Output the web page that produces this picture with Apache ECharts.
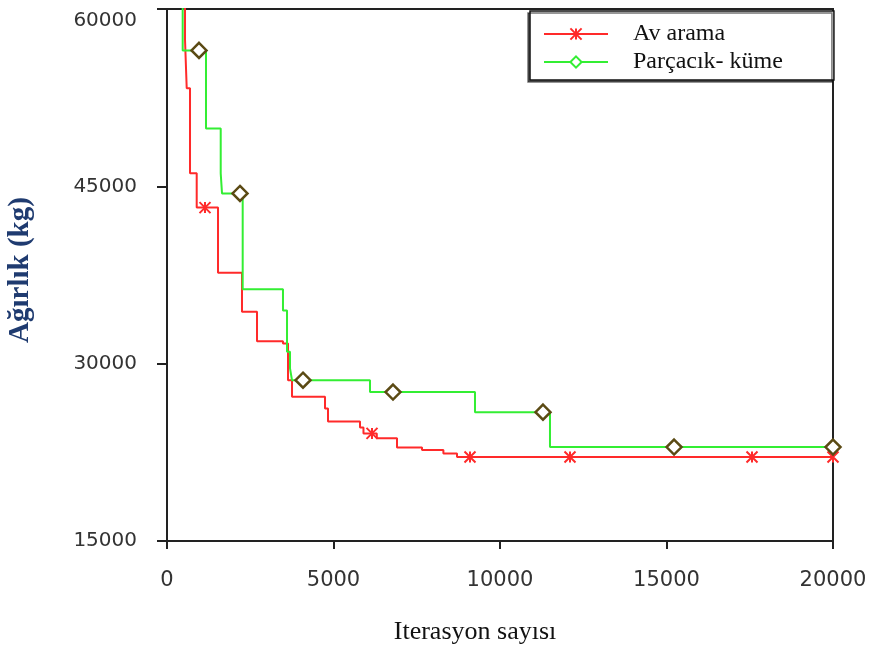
<!DOCTYPE html>
<html>
<head>
<meta charset="utf-8">
<script src="https://cdn.jsdelivr.net/npm/echarts@6/dist/echarts.min.js"></script>
<style>
  html, body { margin: 0; padding: 0; background: #fff; }
  #chart { width: 869px; height: 651px; }
</style>
</head>
<body>
<div id="chart"></div>
<script>
// Av arama (hunting search) - step points where the best value changes
const avX = [0, 541, 592, 691, 892, 1532, 2252, 2703, 3483, 3634, 3754, 4745, 4835, 5796, 5900, 6300, 6907, 7658, 8300, 8709, 20000];
const avY = [70000, 57400, 53300, 46100, 43200, 37700, 34400, 31900, 31700, 28600, 27200, 26200, 25100, 24600, 24100, 23700, 22900, 22700, 22400, 22100, 22100];
const avMarkX = [1141, 6156, 9099, 12102, 17568, 20000];
const avMarkY = [43200, 24100, 22100, 22100, 22100, 22100];

// Parçacık- küme (particle swarm)
const psoX = [0, 471, 1171, 1613, 1652, 2273, 3483, 3604, 3694, 3754, 6096, 9249, 11501, 20000];
const psoY = [70000, 56500, 49900, 46100, 44400, 36300, 34500, 31000, 29600, 28600, 27600, 25900, 22950, 22950];
const psoMarkX = [961, 2192, 4084, 6787, 11291, 15227, 20000];
const psoMarkY = [56500, 44400, 28600, 27600, 25900, 22950, 22950];

const xTicks = [0, 5000, 10000, 15000, 20000];
const yTicks = [15000, 30000, 45000, 60000];

function build(xs, ys, mx, my) {
  let pts = xs.map(function(x, i) { return { value: [x, ys[i]], symbol: 'none' }; });
  mx.forEach(function(x, i) { pts.push({ value: [x, my[i]] }); });
  pts.sort(function(a, b) { return a.value[0] - b.value[0]; });
  return pts;
}

const starPath = 'path://M0,0L10,10M10,0L0,10M5,0L5,10';

let myChart = echarts.init(document.getElementById('chart'));
myChart.setOption({
  animation: false,
  grid: {
    left: 167, right: 36, top: 9, bottom: 110,
    outerBoundsMode: 'none',
    show: true, borderColor: '#222', borderWidth: 2
  },
  legend: {
    orient: 'vertical',
    left: 530, top: 11,
    padding: [11, 51, 6, 13],
    itemGap: 4,
    itemWidth: 64, itemHeight: 14,
    backgroundColor: '#fff',
    borderColor: '#111', borderWidth: 1.5,
    shadowColor: 'rgba(0,0,0,0.55)', shadowBlur: 0, shadowOffsetX: -2, shadowOffsetY: 2,
    textStyle: { fontFamily: 'Liberation Serif', fontSize: 24, color: '#111', padding: [0, 0, 0, 20] },
    data: [
      { name: 'Av arama' },
      { name: 'Parçacık- küme', itemStyle: { borderColor: '#33ee33' } }
    ]
  },
  xAxis: {
    type: 'value',
    min: 0, max: 20000, interval: 5000,
    name: 'Iterasyon sayısı',
    nameLocation: 'middle', nameGap: 78,
    nameTextStyle: { fontFamily: 'Liberation Serif', fontSize: 26, color: '#111', padding: [0, 50, 0, 0] },
    axisLine: { lineStyle: { color: '#222', width: 2 } },
    axisTick: { length: 8, lineStyle: { color: '#222', width: 2 } },
    axisLabel: {
      margin: 29, fontFamily: 'DejaVu Sans', fontSize: 21, color: '#333',
      formatter: function(v) { return xTicks.indexOf(v) >= 0 ? String(v) : ''; }
    },
    splitLine: { show: false }
  },
  yAxis: {
    type: 'value',
    min: 15000, max: 60000, interval: 15000,
    name: 'Ağırlık (kg)',
    nameLocation: 'middle', nameGap: 132, nameRotate: 90,
    nameTextStyle: { fontFamily: 'Liberation Serif', fontSize: 29, fontWeight: 'bold', color: '#1f3b70', padding: [0, 0, 0, 10] },
    axisLine: { lineStyle: { color: '#222', width: 2 } },
    axisTick: { length: 10, lineStyle: { color: '#222', width: 2 } },
    axisLabel: {
      margin: 30, fontFamily: 'DejaVu Sans', fontSize: 20, color: '#333',
      formatter: function(v) {
        if (yTicks.indexOf(v) < 0) return '';
        return v === 60000 ? '{top|' + v + '}' : String(v);
      },
      rich: { top: { fontFamily: 'DejaVu Sans', fontSize: 20, color: '#333', padding: [24, 0, 0, 0] } }
    },
    splitLine: { show: false }
  },
  series: [
    {
      name: 'Av arama',
      type: 'line',
      step: 'end',
      data: build(avX, avY, avMarkX, avMarkY),
      symbol: starPath,
      symbolSize: 11,
      showAllSymbol: true,
      lineStyle: { color: '#ff2a2a', width: 2 },
      itemStyle: { color: '#ff2a2a', borderColor: '#ff2a2a', borderWidth: 2 }
    },
    {
      name: 'Parçacık- küme',
      type: 'line',
      step: 'end',
      data: build(psoX, psoY, psoMarkX, psoMarkY),
      symbol: 'diamond',
      symbolSize: 15,
      showAllSymbol: true,
      lineStyle: { color: '#33ee33', width: 2 },
      itemStyle: { color: '#fff', borderColor: '#5b4a14', borderWidth: 2.5 }
    }
  ]
});
</script>
</body>
</html>
